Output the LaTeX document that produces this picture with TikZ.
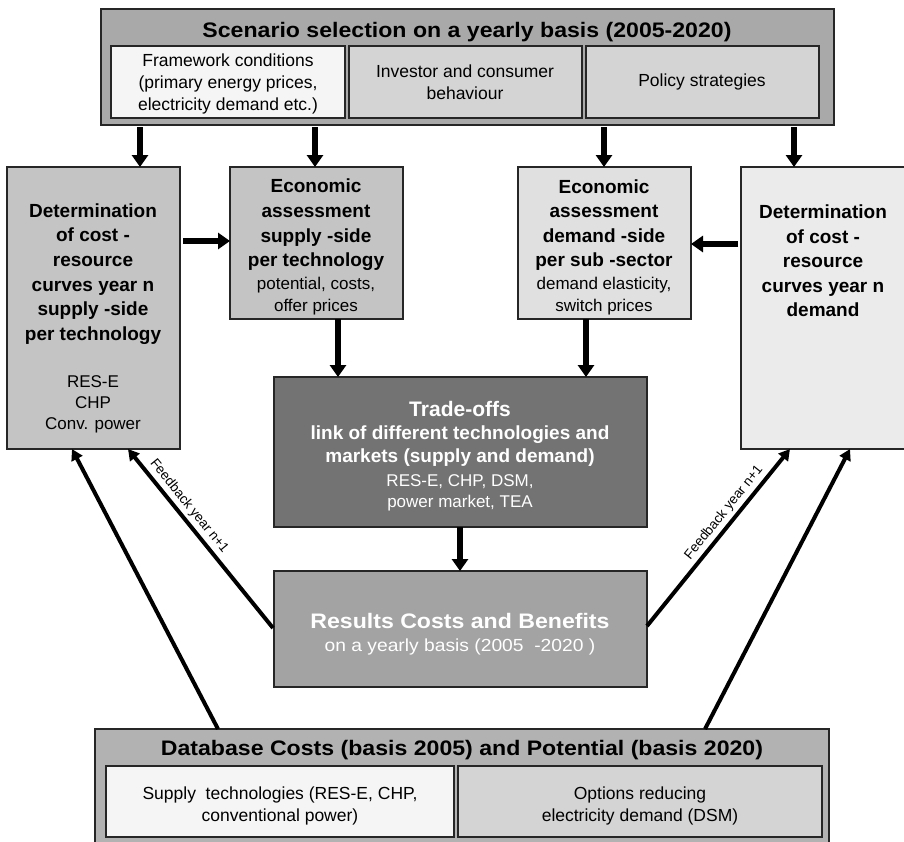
\documentclass[tikz,border=0pt]{standalone}
\usepackage{fontspec}
\setmainfont{Liberation Sans}
\newfontfamily\widesans[FakeStretch=1.1]{Liberation Sans}
\usetikzlibrary{arrows.meta}
\definecolor{cTop}{HTML}{A9A9A9}
\definecolor{cWhite}{HTML}{F5F5F5}
\definecolor{cSub}{HTML}{D4D4D4}
\definecolor{cLeft}{HTML}{C4C4C4}
\definecolor{cDem}{HTML}{E0E0E0}
\definecolor{cRight}{HTML}{EBEBEB}
\definecolor{cTrade}{HTML}{737373}
\definecolor{cRes}{HTML}{A3A3A3}
\definecolor{cDB}{HTML}{B2B2B2}
\newcommand\mybox[6]{%
  \pgfmathsetmacro\mbW{#4-#2}\pgfmathsetmacro\mbH{#5-#3}%
  \pgfmathsetmacro\mbX{(#2+#4)/2}\pgfmathsetmacro\mbY{(#3+#5)/2}%
  \node[box, fill=#6, minimum width=\mbW pt, minimum height=\mbH pt] (#1) at (\mbX,\mbY) {};}
\begin{document}
\begin{tikzpicture}[x=1pt,y=-1pt,
  box/.style={draw=black!85, line width=1.3pt, inner sep=0pt, outer sep=0pt},
  bt/.style={font=\fontsize{19}{24.6}\selectfont\bfseries, align=center, inner sep=0pt},
  rt/.style={font=\fontsize{17.5}{21.5}\selectfont, align=center, inner sep=0pt},
  ttl/.style={font=\widesans\fontsize{21}{24}\selectfont\bfseries, align=center, inner sep=0pt},
  arrB/.style={line width=5.5pt, -{Triangle[length=12pt,width=16pt]}},
  diag/.style={line width=4pt, -{Triangle[length=11pt,width=12pt]}},
  fb/.style={font=\fontsize{13.5}{15}\selectfont, inner sep=3pt}]
\useasboundingbox (0,0) rectangle (904,841);
\clip (0,0) rectangle (904,841);
\fill[white] (0,0) rectangle (904,841);

% top scenario box
\mybox{top}{101}{9}{834}{125}{cTop}
\mybox{fw}{111}{46}{345}{118}{cWhite}
\mybox{inv}{349}{46}{582}{118}{cSub}
\mybox{pol}{586}{46}{819}{118}{cSub}
\node[ttl] (toptitle) at (467,32) {Scenario selection on a yearly basis (2005-2020)};
\node[rt, font=\fontsize{17.5}{21.7}\selectfont] (fwt) at (228,84) {Framework conditions\\(primary energy prices,\\electricity demand etc.)};
\node[rt] (invt) at (465,82) {Investor and consumer\\behaviour};
\node[rt] (polt) at (702,82) {Policy strategies};

% second row
\mybox{lb}{7}{167}{180}{449}{cLeft}
\mybox{es}{230}{167}{403}{319}{cLeft}
\mybox{ed}{518}{167}{691}{319}{cDem}
\mybox{rb}{741}{167}{906}{449}{cRight}
\node[bt] (lbt) at (93,274) {Determination\\of cost -\\resource\\curves year n\\supply -side\\per technology};
\node[rt, font=\fontsize{17}{21}\selectfont] (lbr) at (93,404) {RES-E\\CHP\\Conv. power};
\node[bt] (est) at (316,225) {Economic\\assessment\\supply -side\\per technology};
\node[rt, font=\fontsize{17}{21.5}\selectfont] (esr) at (316,296) {potential, costs,\\offer prices};
\node[bt] (edt) at (604,225) {Economic\\assessment\\demand -side\\per sub -sector};
\node[rt, font=\fontsize{17}{21.5}\selectfont] (edr) at (604,296) {demand elasticity,\\switch prices};
\node[bt] (rbt) at (823,261) {Determination\\of cost -\\resource\\curves year n\\demand};

% trade-offs
\mybox{tr}{274}{377}{647}{527}{cTrade}
\node[bt, text=white, font=\fontsize{21}{24}\selectfont\bfseries] (trt) at (460,409) {Trade-offs};
\node[bt, text=white, font=\fontsize{19}{23}\selectfont\bfseries] (trb) at (460,446) {link of different technologies and\\markets (supply and demand)};
\node[rt, text=white, font=\fontsize{17}{21.5}\selectfont] (trr) at (460,493) {RES-E, CHP, DSM,\\power market, TEA};

% results
\mybox{res}{274}{571}{647}{687}{cRes}
\node[bt, text=white, font=\widesans\fontsize{21}{24}\selectfont\bfseries] (rest) at (460,621) {Results Costs and Benefits};
\node[rt, text=white, font=\widesans\fontsize{17.5}{20}\selectfont] (resr) at (460,647) {on a yearly basis (2005\ \ -2020 )};

% database
\mybox{db}{95}{729}{829}{844}{cDB}
\mybox{sup}{106}{766}{454}{837}{cWhite}
\mybox{opt}{458}{766}{822}{837}{cSub}
\node[ttl] (dbt) at (462,750) {Database Costs (basis 2005) and Potential (basis 2020)};
\node[rt] (supt) at (280,806) {Supply\ \ technologies (RES-E, CHP,\\conventional power)};
\node[rt] (optt) at (640,806) {Options reducing\\electricity demand (DSM)};

% arrows from top box
\coordinate (a1) at (140,127);
\coordinate (a2) at (315,127);
\coordinate (a3) at (604,127);
\coordinate (a4) at (794,127);
\draw[arrB] (a1) -- (a1 |- lb.north);
\draw[arrB] (a2) -- (a2 |- es.north);
\draw[arrB] (a3) -- (a3 |- ed.north);
\draw[arrB] (a4) -- (a4 |- rb.north);

% horizontal arrows
\coordinate (h1) at (183,241);
\coordinate (h2) at (738,244);
\draw[arrB] (h1) -- (h1 -| es.west);
\draw[arrB] (h2) -- (h2 -| ed.east);

% down arrows into trade-offs and results
\coordinate (d1) at (338,319);
\coordinate (d2) at (586,319);
\coordinate (d3) at (460,527);
\draw[arrB] (d1) -- (d1 |- tr.north);
\draw[arrB] (d2) -- (d2 |- tr.north);
\draw[arrB] (d3) -- (d3 |- res.north);

% long diagonal arrows
\coordinate (lbL) at (72,449);
\coordinate (lbR) at (128,449);
\coordinate (rbL) at (790,449);
\coordinate (rbR) at (850,449);
\coordinate (dbL) at (218,729);
\coordinate (dbR) at (705,729);
\coordinate (resL) at (273,628);
\coordinate (resR) at (647,626);
\draw[diag] (dbL) -- (lbL);
\draw[diag] (dbR) -- (rbR);
\draw[diag] (resL) -- node[fb, pos=0.64, sloped, above] (fbl) {Feedback year n+1} (lbR);
\draw[diag] (resR) -- node[fb, pos=0.6, sloped, above] (fbr) {Feedback year n+1} (rbL);
\end{tikzpicture}
\end{document}
